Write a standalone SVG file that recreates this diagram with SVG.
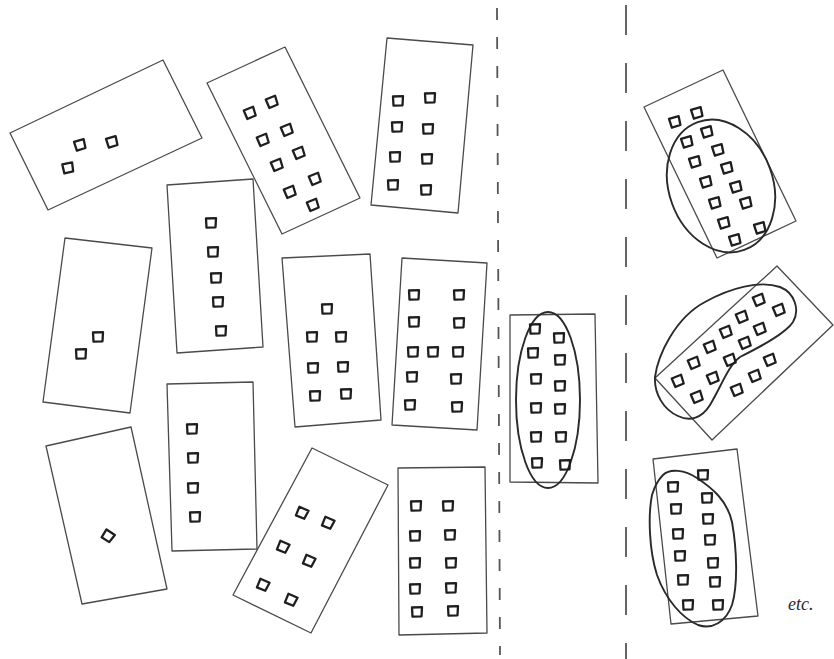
<svg xmlns="http://www.w3.org/2000/svg" xmlns:xlink="http://www.w3.org/1999/xlink" width="834" height="659" viewBox="0 0 834 659">
<style>
.b{fill:none;stroke:#4a4a4a;stroke-width:1.3;stroke-linejoin:round}
.e{fill:none;stroke:#2a2a2a;stroke-width:1.9}
.d{fill:none;stroke:#555;stroke-width:1.8}
.w{fill:none;stroke:#1e1e1e;stroke-width:2.3;stroke-linejoin:round}
.t{font-family:"Liberation Serif",serif;font-style:italic;font-size:18px;fill:#2a2a2a}
</style>
<defs>
<path id="s" class="w" d="M-5,-4.5 L5,-4.8 L4.5,4.3 L-4.5,4.7 Z"/>
</defs>
<rect width="834" height="659" fill="#fff"/>
<g id="dividers">
<line class="d" x1="497" y1="8" x2="500" y2="655" stroke-dasharray="12 17"/>
<line class="d" x1="626" y1="5" x2="626" y2="659" stroke-dasharray="30 28"/>
</g>
<g id="b1">
<polygon class="b" points="10,133 163,60 202,138 48,210"/>
<use xlink:href="#s" transform="translate(80,145) rotate(-15)"/>
<use xlink:href="#s" transform="translate(112,142) rotate(-15)"/>
<use xlink:href="#s" transform="translate(68,168) rotate(-10)"/>
</g>
<g id="b2">
<polygon class="b" points="207,83 285,47 360,198 282,234"/>
<use xlink:href="#s" transform="translate(250,113) rotate(-20)"/>
<use xlink:href="#s" transform="translate(272,102) rotate(-20)"/>
<use xlink:href="#s" transform="translate(263,140) rotate(-20)"/>
<use xlink:href="#s" transform="translate(287,130) rotate(-20)"/>
<use xlink:href="#s" transform="translate(277,165) rotate(-20)"/>
<use xlink:href="#s" transform="translate(299,153) rotate(-20)"/>
<use xlink:href="#s" transform="translate(290,192) rotate(-20)"/>
<use xlink:href="#s" transform="translate(315,179) rotate(-20)"/>
<use xlink:href="#s" transform="translate(313,205) rotate(-20)"/>
</g>
<g id="b3">
<polygon class="b" points="387,38 473,45 458,213 371,205"/>
<use xlink:href="#s" transform="translate(398,101)"/>
<use xlink:href="#s" transform="translate(430,98)"/>
<use xlink:href="#s" transform="translate(397,127)"/>
<use xlink:href="#s" transform="translate(428,129)"/>
<use xlink:href="#s" transform="translate(395,157)"/>
<use xlink:href="#s" transform="translate(427,159)"/>
<use xlink:href="#s" transform="translate(393,185)"/>
<use xlink:href="#s" transform="translate(426,190)"/>
</g>
<g id="b4">
<polygon class="b" points="65,238 152,248 130,413 43,402"/>
<use xlink:href="#s" transform="translate(98,337)"/>
<use xlink:href="#s" transform="translate(81,354)"/>
</g>
<g id="b5">
<polygon class="b" points="167,185 253,179 263,347 177,353"/>
<use xlink:href="#s" transform="translate(211,223)"/>
<use xlink:href="#s" transform="translate(213,252)"/>
<use xlink:href="#s" transform="translate(216,278)"/>
<use xlink:href="#s" transform="translate(218,302)"/>
<use xlink:href="#s" transform="translate(221,331)"/>
</g>
<g id="b6">
<polygon class="b" points="282,258 370,254 381,420 295,427"/>
<use xlink:href="#s" transform="translate(327,309)"/>
<use xlink:href="#s" transform="translate(312,337)"/>
<use xlink:href="#s" transform="translate(341,337)"/>
<use xlink:href="#s" transform="translate(313,368)"/>
<use xlink:href="#s" transform="translate(343,367)"/>
<use xlink:href="#s" transform="translate(315,396)"/>
<use xlink:href="#s" transform="translate(346,394)"/>
</g>
<g id="b7">
<polygon class="b" points="402,258 487,263 477,430 392,425"/>
<use xlink:href="#s" transform="translate(414,295)"/>
<use xlink:href="#s" transform="translate(459,295)"/>
<use xlink:href="#s" transform="translate(414,322)"/>
<use xlink:href="#s" transform="translate(459,323)"/>
<use xlink:href="#s" transform="translate(413,352)"/>
<use xlink:href="#s" transform="translate(433,352)"/>
<use xlink:href="#s" transform="translate(458,352)"/>
<use xlink:href="#s" transform="translate(412,377)"/>
<use xlink:href="#s" transform="translate(456,379)"/>
<use xlink:href="#s" transform="translate(410,405)"/>
<use xlink:href="#s" transform="translate(457,407)"/>
</g>
<g id="b8">
<polygon class="b" points="46,446 131,427 167,589 82,604"/>
<use xlink:href="#s" transform="translate(108,536) rotate(35)"/>
</g>
<g id="b9">
<polygon class="b" points="167,384 253,382 257,549 172,551"/>
<use xlink:href="#s" transform="translate(192,429)"/>
<use xlink:href="#s" transform="translate(193,458)"/>
<use xlink:href="#s" transform="translate(193,488)"/>
<use xlink:href="#s" transform="translate(195,517)"/>
</g>
<g id="b10">
<polygon class="b" points="312,448 388,485 311,633 233,595"/>
<use xlink:href="#s" transform="translate(302,513) rotate(25)"/>
<use xlink:href="#s" transform="translate(328,523) rotate(25)"/>
<use xlink:href="#s" transform="translate(283,547) rotate(25)"/>
<use xlink:href="#s" transform="translate(309,561) rotate(25)"/>
<use xlink:href="#s" transform="translate(263,585) rotate(25)"/>
<use xlink:href="#s" transform="translate(291,600) rotate(25)"/>
</g>
<g id="b11">
<polygon class="b" points="398,468 485,467 487,633 399,635"/>
<use xlink:href="#s" transform="translate(416,506)"/>
<use xlink:href="#s" transform="translate(448,506)"/>
<use xlink:href="#s" transform="translate(415,536)"/>
<use xlink:href="#s" transform="translate(450,535)"/>
<use xlink:href="#s" transform="translate(415,563)"/>
<use xlink:href="#s" transform="translate(451,563)"/>
<use xlink:href="#s" transform="translate(415,589)"/>
<use xlink:href="#s" transform="translate(451,588)"/>
<use xlink:href="#s" transform="translate(417,612)"/>
<use xlink:href="#s" transform="translate(453,611)"/>
</g>
<g id="b12">
<polygon class="b" points="510,315 595,314 598,483 510,482"/>
<ellipse class="e" cx="548" cy="400" rx="32" ry="88"/>
<use xlink:href="#s" transform="translate(535,329)"/>
<use xlink:href="#s" transform="translate(559,338)"/>
<use xlink:href="#s" transform="translate(533,353)"/>
<use xlink:href="#s" transform="translate(560,360)"/>
<use xlink:href="#s" transform="translate(536,379)"/>
<use xlink:href="#s" transform="translate(560,386)"/>
<use xlink:href="#s" transform="translate(536,408)"/>
<use xlink:href="#s" transform="translate(560,409)"/>
<use xlink:href="#s" transform="translate(536,437)"/>
<use xlink:href="#s" transform="translate(561,437)"/>
<use xlink:href="#s" transform="translate(537,463)"/>
<use xlink:href="#s" transform="translate(565,465)"/>
</g>
<g id="b13">
<polygon class="b" points="644,107 723,70 796,221 717,258"/>
<ellipse class="e" cx="721" cy="186" rx="52" ry="68" transform="rotate(-20 721 186)"/>
<use xlink:href="#s" transform="translate(675,122) rotate(-15)"/>
<use xlink:href="#s" transform="translate(697,113) rotate(-15)"/>
<use xlink:href="#s" transform="translate(687,142) rotate(-15)"/>
<use xlink:href="#s" transform="translate(707,132) rotate(-15)"/>
<use xlink:href="#s" transform="translate(695,162) rotate(-15)"/>
<use xlink:href="#s" transform="translate(718,150) rotate(-15)"/>
<use xlink:href="#s" transform="translate(706,182) rotate(-15)"/>
<use xlink:href="#s" transform="translate(727,168) rotate(-15)"/>
<use xlink:href="#s" transform="translate(715,203) rotate(-15)"/>
<use xlink:href="#s" transform="translate(736,187) rotate(-15)"/>
<use xlink:href="#s" transform="translate(724,223) rotate(-15)"/>
<use xlink:href="#s" transform="translate(746,203) rotate(-15)"/>
<use xlink:href="#s" transform="translate(735,240) rotate(-15)"/>
<use xlink:href="#s" transform="translate(760,228) rotate(-15)"/>
</g>
<g id="b14">
<polygon class="b" points="777,266 833,325 712,440 655,378"/>
<path class="e" d="M655,377 C658,355 675,318 705,302 C730,288 760,280 780,287 C795,293 800,310 793,322 C785,334 760,347 740,357 C728,366 722,385 710,405 C702,418 690,422 678,416 C664,410 654,394 655,377 Z"/>
<use xlink:href="#s" transform="translate(759,300) rotate(-20)"/>
<use xlink:href="#s" transform="translate(779,310) rotate(-20)"/>
<use xlink:href="#s" transform="translate(742,317) rotate(-20)"/>
<use xlink:href="#s" transform="translate(760,329) rotate(-20)"/>
<use xlink:href="#s" transform="translate(726,332) rotate(-20)"/>
<use xlink:href="#s" transform="translate(745,343) rotate(-20)"/>
<use xlink:href="#s" transform="translate(710,347) rotate(-20)"/>
<use xlink:href="#s" transform="translate(730,360) rotate(-20)"/>
<use xlink:href="#s" transform="translate(694,363) rotate(-20)"/>
<use xlink:href="#s" transform="translate(770,360) rotate(-20)"/>
<use xlink:href="#s" transform="translate(678,381) rotate(-20)"/>
<use xlink:href="#s" transform="translate(713,378) rotate(-20)"/>
<use xlink:href="#s" transform="translate(755,376) rotate(-20)"/>
<use xlink:href="#s" transform="translate(697,397) rotate(-20)"/>
<use xlink:href="#s" transform="translate(737,390) rotate(-20)"/>
</g>
<g id="b15">
<polygon class="b" points="653,459 737,449 758,616 671,624"/>
<path class="e" d="M663,475 C670,468 685,470 697,478 C712,488 727,500 732,522 C737,550 738,585 732,605 C726,622 712,630 698,625 C682,618 666,600 657,575 C649,550 648,515 652,495 C655,485 658,480 663,475 Z"/>
<use xlink:href="#s" transform="translate(703,475)"/>
<use xlink:href="#s" transform="translate(673,487)"/>
<use xlink:href="#s" transform="translate(707,498)"/>
<use xlink:href="#s" transform="translate(676,509)"/>
<use xlink:href="#s" transform="translate(708,519)"/>
<use xlink:href="#s" transform="translate(678,534)"/>
<use xlink:href="#s" transform="translate(710,540)"/>
<use xlink:href="#s" transform="translate(680,556)"/>
<use xlink:href="#s" transform="translate(713,563)"/>
<use xlink:href="#s" transform="translate(683,580)"/>
<use xlink:href="#s" transform="translate(715,582)"/>
<use xlink:href="#s" transform="translate(688,605)"/>
<use xlink:href="#s" transform="translate(718,605)"/>
</g>
<g id="etc">
<text class="t" x="788" y="610">etc.</text>
</g>
</svg>
